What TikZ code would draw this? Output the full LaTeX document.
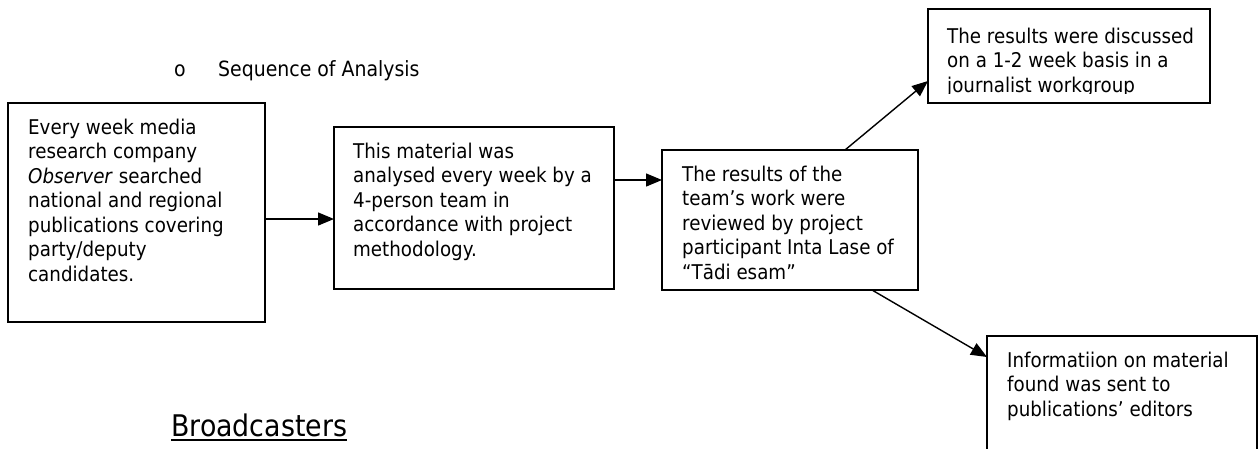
\documentclass[tikz,border=0pt]{standalone}
\usepackage{fontspec}
\setmainfont{DejaVu Sans}[FakeStretch=0.9]
\usetikzlibrary{arrows.meta}
\begin{document}
\begin{tikzpicture}[x=1pt,y=-1pt,
  box/.style={draw=black,line width=1.7pt,inner sep=0pt,outer sep=0pt,anchor=north west},
  txt/.style={align=left,inner sep=0pt,anchor=north west,font=\fontsize{20.3}{24.5}\selectfont},
  head/.style={inner sep=0pt,anchor=base west},
  arr/.style={line width=1.4pt,-{Triangle[length=16pt,width=13pt]}}]
\useasboundingbox (0,0) rectangle (1259,448);
% boxes
\node[box,minimum width=257pt,minimum height=219pt] (b1) at (8,103) {};
\node[box,minimum width=280pt,minimum height=162pt] (b2) at (334,127) {};
\node[box,minimum width=256pt,minimum height=140pt] (b3) at (662,150) {};
\node[box,minimum width=282pt,minimum height=94pt] (b4) at (928,9) {};
\node[box,minimum width=270pt,minimum height=124pt] (b5) at (987,336) {};
% texts
\node[txt] (t1) at (28,118.5) {Every week media\\research company\\\textit{Observer} searched\\national and regional\\publications covering\\party/deputy\\candidates.};
\node[txt] (t2) at (353,142.5) {This material was\\analysed every week by a\\4-person team in\\accordance with project\\methodology.};
\begin{scope}
\clip (662,150) rectangle (918,279.5);
\node[txt] (t3) at (682,165.5) {The results of the\\team’s work were\\reviewed by project\\participant Inta Lase of\\“Tādi esam”};
\end{scope}
\begin{scope}
\clip (928,9) rectangle (1210,93);
\node[txt] (t4) at (947,27.5) {The results were discussed\\on a 1-2 week basis in a\\journalist workgroup};
\end{scope}
\node[txt] (t5) at (1007,351.5) {Informatiion on material\\found was sent to\\publications’ editors};
% headings
\node[head,font=\fontsize{21}{26}\selectfont] (bul) at (174,76) {o};
\node[head,font=\fontsize{21}{26}\selectfont] (title) at (218,76) {Sequence of Analysis};
\node[head,font=\fontsize{29.8}{34}\selectfont] (bc) at (171,436) {Broadcasters};
\draw[line width=2.2pt] ([yshift=-4pt]bc.base west) -- ([yshift=-4pt]bc.base east);
% connectors
\coordinate (y1) at (0,219);
\coordinate (y2) at (0,180);
\coordinate (x3) at (845,0);
\coordinate (y3) at (0,81);
\coordinate (x4) at (872,0);
\coordinate (y4) at (0,357);
\draw[arr] (b1.east |- y1) -- (b2.west |- y1);
\draw[arr] (b2.east |- y2) -- (b3.west |- y2);
\draw[arr] (x3 |- b3.north) -- (b4.west |- y3);
\draw[arr] (x4 |- b3.south) -- (b5.west |- y4);
\end{tikzpicture}
\end{document}
